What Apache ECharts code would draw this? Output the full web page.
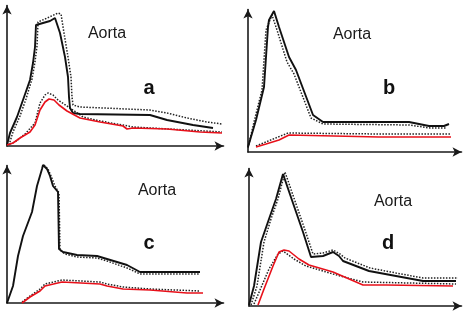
<!DOCTYPE html>
<html><head><meta charset="utf-8">
<script src="https://cdn.jsdelivr.net/npm/echarts@6/dist/echarts.min.js"></script>
<style>html,body{margin:0;padding:0;background:#fff}#c{width:473px;height:318px}</style>
</head><body><div id="c"></div>
<script>
// Panel labels
const panelLetters = ['a', 'b', 'c', 'd'];
const regionLabel = 'Aorta';

// Panel a: [time, signal]
const aBlack = [[0,1],[3,13],[10,29],[16,46],[23,66],[26,83],[28,99],[29,121],[31,122],[43,125],[48,128],[50,129],[53,113],[58,89],[61,69],[62,49],[63,38],[66,33],[73,32],[143,31],[160,26],[186,21],[206,18]];
const aBlackDot = [[2,1],[6,14],[13,30],[19,47],[25,67],[28,84],[30,100],[31,124],[38,127],[51,133],[54,132],[57,113],[61,89],[64,69],[65,49],[66,41],[73,39],[143,36],[160,33],[180,28],[200,24],[215,22]];
const aRed = [[0,1],[6,3],[13,8],[18,11],[23,14],[28,21],[33,36],[38,44],[42,47],[47,46],[52,41],[60,35],[73,28],[93,24],[116,20],[120,17],[126,18],[160,17],[193,14],[215,13]];
const aRedDot = [[0,1],[8,4],[18,12],[28,23],[33,43],[38,51],[41,53],[46,51],[51,46],[63,38],[76,29],[93,25],[116,21],[126,19],[215,14]];

// Panel b
const bBlack = [[0,5],[8,32],[16,65],[20,125],[21,132],[26,141],[31,125],[41,95],[48,82],[65,37],[75,30],[161,30],[181,26],[196,26],[201,28]];
const bBlackDot = [[0,4],[6,30],[14,62],[18,122],[24,137],[29,122],[39,90],[46,78],[63,34],[75,28],[161,27],[182,24],[199,24]];
const bRed = [[8,5],[18,8],[31,12],[41,17],[131,15],[203,15]];
const bRedDot = [[8,6],[40,19],[131,18],[203,18]];

// Panel c
const cBlack = [[0,0],[6,17],[11,47],[16,67],[25,91],[30,117],[35,134],[36,138],[40,134],[43,127],[46,117],[51,111],[52,54],[56,51],[70,48],[90,47],[100,44],[120,38],[133,31],[140,31],[193,31]];
const cBlackDot = [[37,138],[41,134],[44,127],[48,117],[52,110],[53,53],[58,49],[70,46],[90,45],[100,42],[120,35],[133,29],[193,29]];
const cRed = [[15,0],[23,6],[33,12],[38,17],[55,21],[93,19],[100,17],[116,14],[143,13],[180,10],[196,10]];
const cRedDot = [[15,1],[23,7],[33,14],[38,19],[55,23],[93,21],[100,19],[116,16],[143,14],[193,12]];

// Panel d
const dBlack = [[0,1],[5,20],[12,64],[20,87],[27,107],[34,132],[45,100],[54,74],[62,49],[74,50],[84,54],[90,50],[94,45],[120,35],[147,30],[174,25],[207,25]];
const dBlackDot = [[2,1],[8,20],[15,64],[22,87],[29,107],[36,134],[47,102],[56,76],[64,52],[74,53],[84,56],[91,52],[96,48],[121,38],[147,33],[174,28],[209,28]];
const dRed = [[9,1],[15,17],[24,40],[30,54],[35,56],[40,55],[50,47],[60,41],[84,34],[114,21],[137,21],[204,20]];
const dRedDot = [[5,2],[20,37],[29,52],[34,55],[45,47],[57,40],[84,32],[114,24],[207,22]];

const panels = [
  {black: aBlack, blackDot: aBlackDot, red: aRed, redDot: aRedDot},
  {black: bBlack, blackDot: bBlackDot, red: bRed, redDot: bRedDot},
  {black: cBlack, blackDot: cBlackDot, red: cRed, redDot: cRedDot},
  {black: dBlack, blackDot: dBlackDot, red: dRed, redDot: dRedDot}
];

// layout (pixels)
const grids = [
  {left: 7, top: 5.5, width: 216.5, height: 140.5},
  {left: 248, top: 9.5, width: 213.5, height: 142.5},
  {left: 7, top: 165.5, width: 216.5, height: 137.5},
  {left: 249, top: 168.5, width: 212.5, height: 137.5}
];
const labelPos = [
  {ax: 107, ay: 33.5, lx: 149, ly: 88},
  {ax: 352, ay: 34.5, lx: 389, ly: 88},
  {ax: 157, ay: 191, lx: 149, ly: 243},
  {ax: 393, ay: 202, lx: 388, ly: 243}
];

const axisLine = {show: true, symbol: ['none', 'arrow'], symbolSize: [7, 9], lineStyle: {color: '#1a1a1a', width: 1.6}};
const option = {
  animation: false,
  backgroundColor: '#fff',
  grid: grids.map(g => Object.assign({containLabel: false}, g)),
  xAxis: grids.map((g, i) => ({type: 'value', gridIndex: i, min: 0, max: g.width, axisLine, axisTick: {show: false}, axisLabel: {show: false}, splitLine: {show: false}})),
  yAxis: grids.map((g, i) => ({type: 'value', gridIndex: i, min: 0, max: g.height, axisLine, axisTick: {show: false}, axisLabel: {show: false}, splitLine: {show: false}})),
  series: [],
  graphic: []
};
panels.forEach((p, i) => {
  const base = {type: 'line', xAxisIndex: i, yAxisIndex: i, showSymbol: false, symbol: 'none', silent: true, clip: false};
  option.series.push(Object.assign({}, base, {data: p.blackDot, lineStyle: {color: '#222', width: 1.5, type: [1.5, 1.5]}, z: 2}));
  option.series.push(Object.assign({}, base, {data: p.redDot, lineStyle: {color: '#222', width: 1.5, type: [1.5, 1.5]}, z: 2}));
  option.series.push(Object.assign({}, base, {data: p.black, lineStyle: {color: '#111', width: 1.9}, z: 3}));
  option.series.push(Object.assign({}, base, {data: p.red, lineStyle: {color: '#e8101a', width: 1.6}, z: 4}));
  const lp = labelPos[i];
  option.graphic.push({type: 'text', x: lp.ax, y: lp.ay, style: {text: regionLabel, font: '16px "Liberation Sans", Arial, sans-serif', fill: '#1a1a1a', textAlign: 'center', textVerticalAlign: 'middle'}});
  option.graphic.push({type: 'text', x: lp.lx, y: lp.ly, style: {text: panelLetters[i], font: 'bold 20px "Liberation Sans", Arial, sans-serif', fill: '#111', textAlign: 'center', textVerticalAlign: 'middle'}});
});
const chart = echarts.init(document.getElementById('c'), null, {renderer: 'canvas'});
chart.setOption(option);
</script></body></html>
